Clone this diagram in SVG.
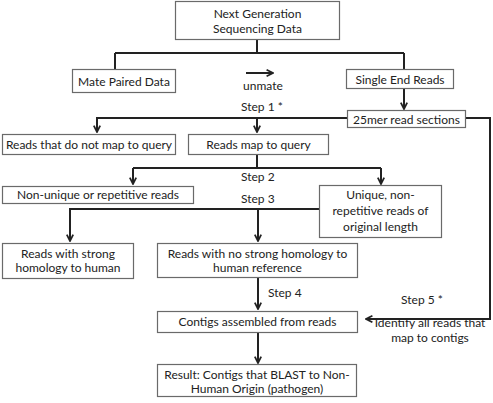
<svg xmlns="http://www.w3.org/2000/svg" width="493" height="403" viewBox="0 0 493 403">
<style>
.box{fill:#fff;stroke:#6a6a6a;stroke-width:1.2}
.t{font-family:Lato,"Liberation Sans",sans-serif;font-size:12px;fill:#222;text-anchor:middle}
.l{font-family:Lato,"Liberation Sans",sans-serif;font-size:12px;fill:#222}
.c{fill:none;stroke:#222;stroke-width:2}
</style>
<defs>
<marker id="ah" viewBox="0 0 10 10" refX="9" refY="5" markerWidth="4" markerHeight="4" orient="auto" markerUnits="strokeWidth">
<path d="M1,1 L9,5 L1,9" fill="none" stroke="#222" stroke-width="2.2"/>
</marker>
</defs>
<rect width="493" height="403" fill="#fff"/>
<g id="connectors">
<path class="c" d="M257,39 V53 M115,53 H404 M115,53 V69 M404,53 V69"/>
<path class="c" d="M404,89 V109" marker-end="url(#ah)"/>
<path class="c" d="M347,118 H97 V132" marker-end="url(#ah)"/>
<path class="c" d="M257,118 V132" marker-end="url(#ah)"/>
<path class="c" d="M466,118 H490 V319 H366" marker-end="url(#ah)"/>
<path class="c" d="M257,154 V168 M133,168 H381"/>
<path class="c" d="M133,168 V184" marker-end="url(#ah)"/>
<path class="c" d="M381,168 V184" marker-end="url(#ah)"/>
<path class="c" d="M319,209 H70 V241" marker-end="url(#ah)"/>
<path class="c" d="M258,209 V241" marker-end="url(#ah)"/>
<path class="c" d="M258,277 V309" marker-end="url(#ah)"/>
<path class="c" d="M258,332 V363" marker-end="url(#ah)"/>
<path class="c" d="M246,73 H273" marker-end="url(#ah)"/>
</g>
<g id="ngs"><rect class="box" x="175.5" y="1.5" width="164" height="38"/><text class="t" x="257.5" y="17.5">Next Generation</text><text class="t" x="257.5" y="33">Sequencing Data</text></g>
<g id="mate"><rect class="box" x="72.5" y="69.5" width="103" height="23"/><text class="t" x="124" y="85.5">Mate Paired Data</text></g>
<g id="single"><rect class="box" x="346.5" y="69.5" width="107" height="19"/><text class="t" x="400" y="83.5">Single End Reads</text></g>
<g id="mer"><rect class="box" x="347.5" y="110.5" width="118" height="17"/><text class="t" x="406.5" y="123.5">25mer read sections</text></g>
<g id="nomap"><rect class="box" x="2.5" y="134.5" width="173" height="20"/><text class="t" x="89" y="148.5">Reads that do not map to query</text></g>
<g id="map"><rect class="box" x="188.5" y="134.5" width="140" height="20"/><text class="t" x="258.5" y="148.5">Reads map to query</text></g>
<g id="nonunique"><rect class="box" x="2.5" y="186.5" width="191" height="17"/><text class="t" x="98" y="199">Non-unique or repetitive reads</text></g>
<g id="unique"><rect class="box" x="319.5" y="185.5" width="122" height="52"/><text class="t" x="380.5" y="198.5">Unique, non-</text><text class="t" x="380.5" y="214.5">repetitive reads of</text><text class="t" x="380.5" y="230.5">original length</text></g>
<g id="strong"><rect class="box" x="2.5" y="243.5" width="131" height="35"/><text class="t" x="68" y="257.5">Reads with strong</text><text class="t" x="68" y="272">homology to human</text></g>
<g id="nostrong"><rect class="box" x="157.5" y="243.5" width="200" height="34"/><text class="t" x="257.5" y="258">Reads with no strong homology to</text><text class="t" x="257.5" y="272">human reference</text></g>
<g id="contigs"><rect class="box" x="157.5" y="311.5" width="200" height="21"/><text class="t" x="257.5" y="325.5">Contigs assembled from reads</text></g>
<g id="result"><rect class="box" x="157.5" y="364.5" width="199" height="32"/><text class="t" x="257" y="378.5">Result: Contigs that BLAST to Non-</text><text class="t" x="257" y="392.5">Human Origin (pathogen)</text></g>
<g id="labels">
<text class="t" x="263" y="90">unmate</text>
<text class="l" x="241" y="111">Step 1 *</text>
<text class="l" x="241" y="181">Step 2</text>
<text class="l" x="241" y="203">Step 3</text>
<text class="l" x="268" y="297">Step 4</text>
<text class="t" x="422" y="304">Step 5 *</text>
<text class="t" x="430" y="327">Identify all reads that</text>
<text class="t" x="430" y="342">map to contigs</text>
</g>
</svg>
